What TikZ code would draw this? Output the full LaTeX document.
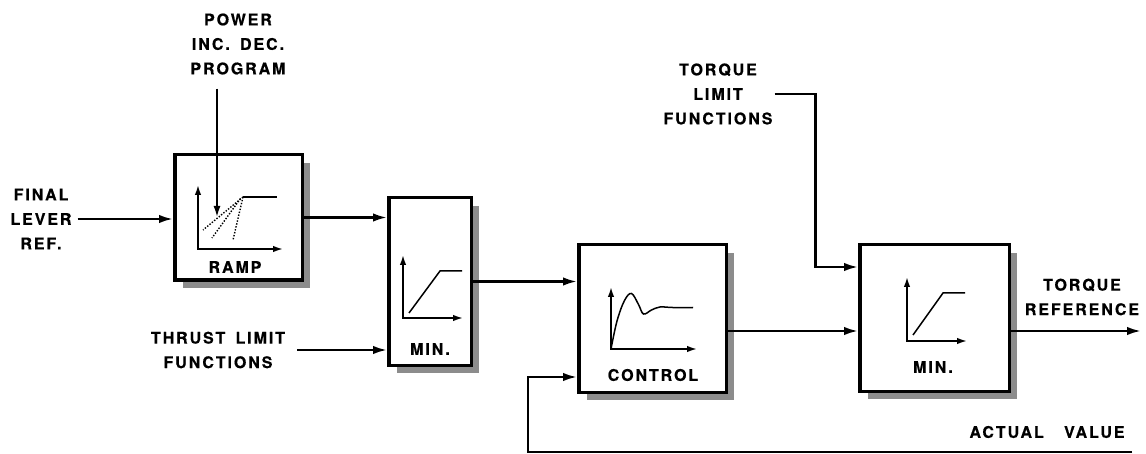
\documentclass[tikz,border=0pt]{standalone}
\usepackage{fontspec}
\setmainfont{TeX Gyre Heros}[LetterSpace=12, WordSpace=1.6, BoldFeatures={FakeBold=0.5}]
\usepackage{tikz}
\usetikzlibrary{arrows.meta, positioning, calc, shadows}

\begin{document}
\begin{tikzpicture}[x=1pt, y=-1pt,
    block/.style={rectangle, draw=black, fill=white, line width=3.5pt, inner sep=0pt, drop shadow={shadow xshift=8pt, shadow yshift=-8pt, fill=black!45, opacity=1}},
    lbl/.style={align=center, inner sep=2pt, font=\fontsize{16}{24.5}\selectfont\bfseries},
    sig/.style={-{Latex[length=14pt, width=8.5pt]}, line width=2.4pt},
    axis/.style={{Latex[length=10pt, width=6.5pt]}-{Latex[length=10pt, width=6.5pt]}, line width=1.7pt},
    curve/.style={line width=1.5pt},
    trace/.style={line width=1.4pt, dash pattern=on 1.4pt off 1.6pt}
]
    \useasboundingbox (0,0) rectangle (1146,454);

    % Blocks
    \node[block, minimum width=127.5pt, minimum height=125.5pt] (ramp) at (238.5,217.5) {};
    \node[block, minimum width=82.5pt, minimum height=167.5pt] (min1) at (430,281.5) {};
    \node[block, minimum width=147.5pt, minimum height=147.5pt] (ctrl) at (652.5,318.5) {};
    \node[block, minimum width=149.5pt, minimum height=146.5pt] (min2) at (934.5,318) {};

    % Texts
    \node[lbl] (lever) at (41,219) {FINAL\\LEVER\\REF.};
    \node[lbl] (power) at (238,44) {POWER\\INC. DEC.\\PROGRAM};
    \node[lbl] (thrust) at (218,350) {THRUST LIMIT\\FUNCTIONS};
    \node[lbl] (tlim) at (718,94) {TORQUE\\LIMIT\\FUNCTIONS};
    \node[lbl] (tref) at (1082,297) {TORQUE\\REFERENCE};
    \node[lbl] (actual) at (1047,432) {ACTUAL\ \ VALUE};

    % Ramp curve
    \begin{scope}[shift={(ramp.center)}]
        \draw[axis] (-40.5,-32.5) -- (-40.5,31.5) -- (44.5,31.5);
        \draw[curve] (4.5,-20.5) -- (38.5,-20.5);
        \draw[trace] (4.5,-20.5) -- (-35.5,12.5);
        \draw[trace] (2,-19) -- (-26.5,20.5);
        \draw[trace] (4.5,-20.5) -- (-5.5,22.5);
        \node[lbl] (ramplbl) at (-3.5,49.5) {RAMP};
    \end{scope}

    % Min curve, thrust side
    \begin{scope}[shift={(min1.center)}]
        \draw[axis] (-27,-26.5) -- (-27,36.5) -- (33,36.5);
        \draw[curve] (-21,31.5) -- (10,-10.5) -- (32,-10.5);
        \node[lbl] (min1lbl) at (0,67.5) {MIN.};
    \end{scope}

    % Control response
    \begin{scope}[shift={(ctrl.center)}]
        \draw[axis] (-41.5,-31.5) -- (-41.5,30.5) -- (44.5,30.5);
        \draw[curve] plot[smooth, tension=0.6] coordinates {(-41.5,30.5) (-35.5,2.5) (-28,-18) (-21,-25) (-14,-14) (-9,-4.5) (-1,-8.5) (7.5,-11.5) (20,-11) (40.5,-11)};
        \node[lbl] (ctrllbl) at (0.5,56.5) {CONTROL};
    \end{scope}

    % Min curve, torque side
    \begin{scope}[shift={(min2.center)}]
        \draw[axis] (-27.5,-41) -- (-27.5,23) -- (32.5,23);
        \draw[curve] (-21.5,17) -- (8.5,-25) -- (30.5,-25);
        \node[lbl] (min2lbl) at (-1.5,49) {MIN.};
    \end{scope}

    % Connection points
    \coordinate (ptip) at (217,217);
    \coordinate (m1b) at (min1.west |- thrust.east);
    \coordinate (c1) at (ctrl.west |- min1.east);
    \coordinate (c2) at ($(ctrl.west)+(0,58.5)$);
    \coordinate (m2a) at ($(min2.west)+(0,-51)$);
    \coordinate (m2b) at ($(min2.west)+(0,13)$);
    \coordinate (out) at (1141,331);
    \coordinate (fbend) at (1132,452);

    % Signals
    \draw[sig, shorten <=4pt] (lever.east) -- (lever.east -| ramp.west);
    \draw[sig, line width=1.7pt, -{Latex[length=11pt, width=7pt]}, shorten <=12pt] (power.south -| ptip) -- (ptip);
    \draw[sig] (ramp.east) -- (ramp.east -| min1.west);
    \draw[sig, shorten <=10pt] (thrust.east) -- (m1b);
    \draw[sig] (min1.east) -- (c1);
    \draw[sig] (ctrl.east |- m2b) -- (m2b);
    \draw[sig] (tlim.east) -- ++(41,0) |- (m2a);
    \draw[sig] (min2.east |- m2b) -- (out);
    \draw[sig] (fbend) -| ($(c2)+(-49,0)$) -- (c2);
\end{tikzpicture}
\end{document}
